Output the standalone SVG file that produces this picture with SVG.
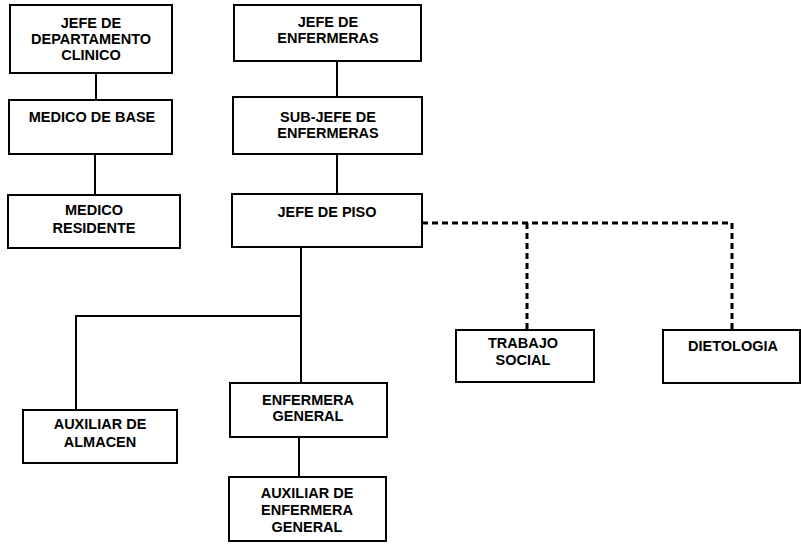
<svg xmlns="http://www.w3.org/2000/svg" width="801" height="544" viewBox="0 0 801 544">
<style>
.box{fill:#fff;stroke:#000;stroke-width:2}
.t{font-family:"Liberation Sans",Arial,sans-serif;font-weight:bold;font-size:14.5px;fill:#000;text-anchor:middle}
.ln{stroke:#000;stroke-width:2;fill:none}
.dl{stroke:#000;stroke-width:3;fill:none;stroke-dasharray:6 4}
</style>
<rect width="801" height="544" fill="#fff"/>
<g id="connectors">
<path class="ln" d="M96 73V100"/>
<path class="ln" d="M95 154V195"/>
<path class="ln" d="M337 61V97"/>
<path class="ln" d="M337 154V194"/>
<path class="ln" d="M301 247V383"/>
<path class="ln" d="M301 316H76V410"/>
<path class="ln" d="M299 437V477"/>
<path class="dl" d="M422 223H732V330"/>
<path class="dl" d="M527 223V330"/>
</g>
<g id="n1"><rect class="box" x="10" y="5" width="162" height="68"/>
<text class="t" x="91" y="28">JEFE DE</text><text class="t" x="91" y="44">DEPARTAMENTO</text><text class="t" x="91" y="60">CLINICO</text></g>
<g id="n2"><rect class="box" x="9" y="100" width="163" height="54"/>
<text class="t" x="92" y="122">MEDICO DE BASE</text></g>
<g id="n3"><rect class="box" x="8" y="195" width="172" height="53"/>
<text class="t" x="94" y="215">MEDICO</text><text class="t" x="94" y="233">RESIDENTE</text></g>
<g id="n4"><rect class="box" x="234" y="5" width="187" height="56"/>
<text class="t" x="328" y="27">JEFE DE</text><text class="t" x="328" y="43">ENFERMERAS</text></g>
<g id="n5"><rect class="box" x="233" y="97" width="189" height="57"/>
<text class="t" x="328" y="122">SUB-JEFE DE</text><text class="t" x="328" y="138">ENFERMERAS</text></g>
<g id="n6"><rect class="box" x="232" y="194" width="190" height="53"/>
<text class="t" x="327" y="217">JEFE DE PISO</text></g>
<g id="n7"><rect class="box" x="456" y="330" width="138" height="52"/>
<text class="t" x="523" y="348">TRABAJO</text><text class="t" x="523" y="365">SOCIAL</text></g>
<g id="n8"><rect class="box" x="663" y="330" width="137" height="53"/>
<text class="t" x="733" y="351">DIETOLOGIA</text></g>
<g id="n9"><rect class="box" x="23" y="410" width="154" height="53"/>
<text class="t" x="100" y="429">AUXILIAR DE</text><text class="t" x="100" y="447">ALMACEN</text></g>
<g id="n10"><rect class="box" x="230" y="383" width="157" height="54"/>
<text class="t" x="308" y="405">ENFERMERA</text><text class="t" x="308" y="421">GENERAL</text></g>
<g id="n11"><rect class="box" x="229" y="477" width="157" height="64"/>
<text class="t" x="307" y="498">AUXILIAR DE</text><text class="t" x="307" y="515">ENFERMERA</text><text class="t" x="307" y="532">GENERAL</text></g>
</svg>
